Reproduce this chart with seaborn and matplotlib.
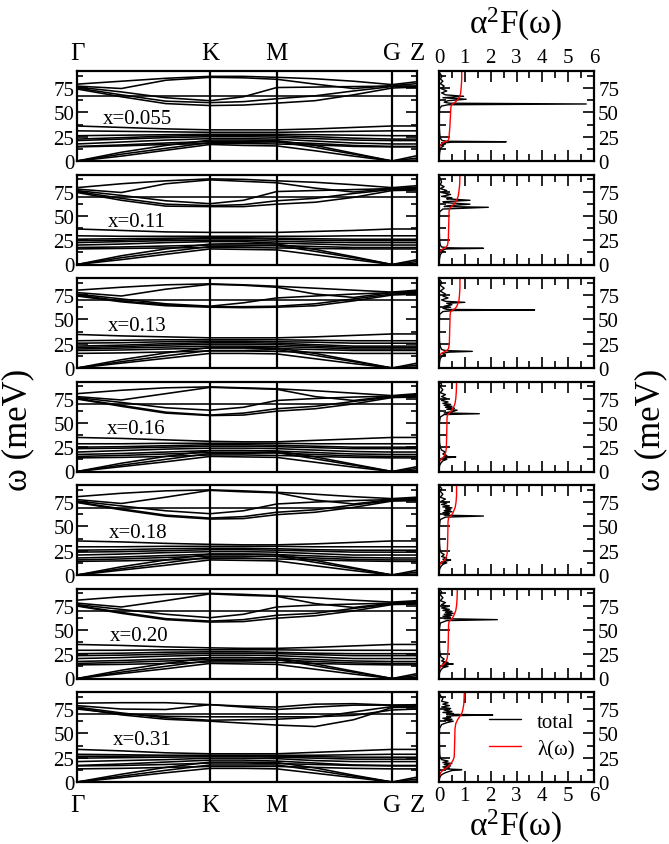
import numpy as np
import pandas as pd
import matplotlib
matplotlib.use("Agg")
import matplotlib.pyplot as plt
import seaborn as sns
from matplotlib.ticker import MultipleLocator

sns.set_theme(style="ticks", rc={
    "axes.edgecolor": "black", "xtick.color": "black", "ytick.color": "black",
    "text.color": "black", "axes.labelcolor": "black",
})
plt.rcParams["font.family"] = ["Liberation Serif", "DejaVu Serif"]
plt.rcParams["mathtext.fontset"] = "custom"
plt.rcParams["mathtext.rm"] = "Liberation Serif"
plt.rcParams["mathtext.it"] = "Liberation Serif:italic"

# ---- k-path  Γ-K-M-Γ(G)-Z  (units of 2π/a) ----
K_POS = 4.0 / 3.0
M_POS = 2.0
G_POS = 2.0 + 2.0 / np.sqrt(3.0)
Z_POS = G_POS + 0.25
KPATH = [0.0, K_POS / 3, 2 * K_POS / 3, K_POS, (K_POS + M_POS) / 2, M_POS,
         M_POS + (G_POS - M_POS) / 3, M_POS + 2 * (G_POS - M_POS) / 3, G_POS, Z_POS]
KLABELS = ["Γ", "K", "M", "G", "Z"]

DOPING = ["x=0.055", "x=0.11", "x=0.13", "x=0.16", "x=0.18", "x=0.20", "x=0.31"]

# ---- phonon branches (meV) sampled along KPATH ----
BANDS_0055 = [
    [79, 82, 85, 87, 87, 86, 84.5, 82, 78.5, 81.5],
    [77, 74.5, 83, 86, 85.5, 84, 79, 74.5, 77.5, 79.5],
    [76, 71, 65, 62, 66, 75.5, 76, 76.5, 77, 77],
    [75, 68, 61.5, 60, 61, 64, 67, 72, 76.5, 77],
    [74, 66, 59, 57, 57.5, 59.5, 62, 68, 75, 76],
    [67, 67, 67, 67, 67, 67, 67, 67, 67, 67],
    [36, 34.5, 33, 32, 32, 32, 33, 34.5, 36, 36],
    [31, 30.5, 30, 29.5, 29.5, 29.5, 30, 30.5, 31, 31],
    [26, 26.5, 27, 27.5, 27.5, 27.5, 27, 26.5, 26, 26],
    [22.5, 24, 25.5, 26.5, 26.5, 26, 25, 23.5, 22.5, 22.5],
    [21, 22.5, 24, 25, 25, 24.5, 23, 21.5, 21, 21],
    [17.5, 19.5, 21.5, 23, 23, 22.5, 20.5, 18.5, 17.5, 17.5],
    [15, 16.5, 18.5, 20, 20, 19.5, 18, 16, 15, 15],
    [14.5, 15.5, 17, 18, 18, 17.5, 16.5, 15, 14.5, 14.5],
    [0, 9, 16, 21.5, 21.5, 21, 16, 8, 0, 5.5],
    [0, 7, 13, 19, 19, 20, 14, 7, 0, 3],
    [0, 5, 11, 17, 16, 15.5, 10.5, 5, 0, 1],
]
BANDS_011 = [
    [79, 83, 86, 88, 87.5, 86, 84.5, 82, 79, 81],
    [77.5, 74, 83, 87, 85.5, 84, 78.5, 74.5, 78, 79.5],
    [76, 71, 65.5, 62.5, 66, 75, 76, 77, 78, 78],
    [75, 68, 62, 60.5, 61.5, 65.5, 68, 73, 77, 77.5],
    [74, 66, 60, 59.5, 59.5, 62, 64, 69, 76, 76.5],
    [69, 69, 69, 69, 69, 69, 69, 69, 69, 69],
    [36.5, 35, 33.5, 33, 33, 33, 34, 35, 36.5, 36.5],
    [29.5, 29, 29, 29, 29, 29, 29, 29.5, 29.5, 29.5],
    [26, 26.5, 27, 27.5, 27.5, 27, 26.5, 26, 26, 26],
    [24.5, 25, 26, 26.5, 26.5, 26, 25, 24.5, 24.5, 24.5],
    [22.5, 23.5, 24.5, 25, 25, 24, 23, 22.5, 22.5, 22.5],
    [20, 21, 22.5, 23.5, 23.5, 22, 21, 20, 20, 20],
    [17.5, 18, 19, 20, 20, 19.5, 18.5, 17.5, 17.5, 17.5],
    [16, 16.5, 17, 17.5, 17.5, 17, 16.5, 16, 16, 16],
    [0, 9, 16, 21, 21.5, 21, 15.5, 8, 0, 5],
    [0, 7, 13, 18.5, 19, 19.5, 13.5, 7, 0, 3],
    [0, 5, 10.5, 16, 15.5, 15, 10, 5, 0, 1],
]
BANDS_013 = [
    [80, 83, 85.5, 86.5, 85.5, 84, 82, 80, 78, 80],
    [77.5, 74, 81, 86, 85, 83, 76, 72.5, 77.5, 79],
    [76, 71, 66, 63.5, 67, 72, 74, 76, 77.5, 77.5],
    [75, 69, 65, 63, 63, 63.5, 66, 71, 76, 77],
    [74, 68, 64, 62.5, 62, 62.5, 64, 69, 75, 76],
    [70, 70, 70, 70, 70, 70, 70, 70, 70, 70],
    [34.5, 33, 32, 31, 31, 31, 32, 33.5, 35, 35],
    [28, 28.5, 29, 29, 29, 29, 28.5, 28, 28, 28],
    [25.5, 26, 27, 27.5, 27.5, 27, 26.5, 25.5, 25.5, 25.5],
    [22.5, 23.5, 25, 26, 26, 25.5, 24, 22.5, 22.5, 22.5],
    [21, 22, 23.5, 24.5, 24.5, 24, 22.5, 21, 21, 21],
    [19.5, 20.5, 21.5, 22.5, 22.5, 22, 21, 19.5, 19.5, 19.5],
    [18, 18.5, 19.5, 20.5, 20.5, 20, 19, 18, 18, 18],
    [15, 15.5, 16.5, 17.5, 17.5, 17, 16, 15, 15, 15],
    [0, 8.5, 15.5, 21, 21, 20.5, 15, 7.5, 0, 5],
    [0, 6.5, 12.5, 18, 18, 19, 13, 6.5, 0, 3],
    [0, 5, 10, 15, 15, 14.5, 9.5, 4.5, 0, 1],
]
BANDS_016 = [
    [80, 83.5, 86, 87, 86, 85, 83, 80.5, 78, 80],
    [77, 73.5, 80, 86.5, 85.5, 84.5, 77, 73, 77.5, 79],
    [76, 71, 65.5, 63, 66, 73, 75, 76.5, 77.5, 78],
    [75, 68, 61, 58, 60, 64.5, 67, 72, 76.5, 77],
    [74.5, 67, 60, 57.5, 58, 62, 64.5, 69.5, 76, 76.5],
    [69.5, 69.5, 69.5, 69.5, 69.5, 69.5, 69.5, 69.5, 69.5, 69.5],
    [35, 34, 32.5, 31, 30.5, 30.5, 32, 33.5, 35, 35],
    [28.5, 28.5, 29, 29, 29, 29, 28.5, 28.5, 28.5, 28.5],
    [25, 25.5, 26.5, 27.5, 27.5, 27, 26, 25, 25, 25],
    [23.5, 24, 25, 26, 26, 25.5, 24.5, 23.5, 23.5, 23.5],
    [20, 21.5, 23, 24, 24, 23.5, 22, 20.5, 20, 20],
    [17.5, 18.5, 20, 21.5, 21.5, 21, 19.5, 18, 17.5, 17.5],
    [15.5, 16.5, 18, 19.5, 19.5, 19, 17.5, 16, 15.5, 15.5],
    [14, 14.5, 15.5, 17, 17, 16.5, 15.5, 14.5, 14, 14],
    [0, 8.5, 15.5, 21.5, 21.5, 21, 15, 7.5, 0, 5],
    [0, 6.5, 12.5, 18.5, 18.5, 19.5, 13, 6.5, 0, 3],
    [0, 5, 10, 15.5, 15, 14.5, 9.5, 4.5, 0, 1],
]
BANDS_018 = [
    [80.5, 84, 86.5, 87.5, 86.5, 85, 83, 80.5, 78.5, 80],
    [77.5, 73.5, 80, 87, 85.5, 84.5, 77, 73, 77.5, 79],
    [76, 71, 66, 63, 66, 73, 75, 76.5, 77.5, 78],
    [75, 68, 61.5, 58.5, 60, 64.5, 67, 72, 76.5, 77],
    [74.5, 67, 60.5, 57.5, 58, 62, 64.5, 69.5, 76, 76.5],
    [69, 69, 69, 69, 69, 69, 69, 69, 69, 69],
    [35, 34, 32.5, 31.5, 31, 31, 32, 33.5, 35, 35],
    [29, 29, 29.5, 29.5, 29.5, 29.5, 29, 29, 29, 29],
    [25.5, 26, 27, 27.5, 27.5, 27, 26, 25.5, 25.5, 25.5],
    [23.5, 24, 25, 26, 26, 25.5, 24.5, 23.5, 23.5, 23.5],
    [20.5, 21.5, 23, 24, 24, 23.5, 22, 20.5, 20.5, 20.5],
    [17.5, 18.5, 20, 21.5, 21.5, 21, 19.5, 18, 17.5, 17.5],
    [15.5, 16.5, 18, 19.5, 19.5, 19, 17.5, 16, 15.5, 15.5],
    [14, 14.5, 15.5, 17, 17, 16.5, 15.5, 14.5, 14, 14],
    [0, 8.5, 15.5, 21.5, 21.5, 21, 15, 7.5, 0, 5],
    [0, 6.5, 12.5, 18.5, 18.5, 19.5, 13, 6.5, 0, 3],
    [0, 5, 10, 15.5, 15, 14.5, 9.5, 4.5, 0, 1],
]
BANDS_020 = [
    [80.5, 84, 86.5, 87.5, 86.5, 85, 83, 80.5, 78.5, 80],
    [77.5, 73.5, 80, 87, 85.5, 84.5, 77, 73, 77.5, 79],
    [76, 71, 66, 62.5, 66, 73.5, 75.5, 76.5, 77.5, 78],
    [75, 68, 61.5, 59, 60.5, 65, 67, 72, 76.5, 77],
    [74.5, 67, 60.5, 58, 58.5, 62, 64.5, 69.5, 76, 76.5],
    [69, 69, 69, 69, 69, 69, 69, 69, 69, 69],
    [35, 34, 32.5, 31.5, 31, 31, 32, 33.5, 35, 35],
    [29, 29, 29.5, 29.5, 29.5, 29.5, 29, 29, 29, 29],
    [25.5, 26, 27, 27.5, 27.5, 27, 26, 25.5, 25.5, 25.5],
    [23.5, 24, 25, 26, 26, 25.5, 24.5, 23.5, 23.5, 23.5],
    [20.5, 21.5, 23, 24, 24, 23.5, 22, 20.5, 20.5, 20.5],
    [17.5, 18.5, 20, 21.5, 21.5, 21, 19.5, 18, 17.5, 17.5],
    [15.5, 16.5, 18, 19.5, 19.5, 19, 17.5, 16, 15.5, 15.5],
    [14, 14.5, 15.5, 17, 17, 16.5, 15.5, 14.5, 14, 14],
    [0, 8.5, 15.5, 21.5, 21.5, 21, 15, 7.5, 0, 5],
    [0, 6.5, 12.5, 18.5, 18.5, 19.5, 13, 6.5, 0, 3],
    [0, 5, 10, 15.5, 15, 14.5, 9.5, 4.5, 0, 1],
]
BANDS_031 = [
    [81, 81.5, 81.5, 79.5, 77, 74.5, 77, 79, 79, 79],
    [78.5, 75, 74.5, 79.5, 78, 77, 80, 80.5, 79, 79.5],
    [77, 71, 66, 63.5, 64, 64.5, 66.5, 72, 77.5, 77.5],
    [76, 69, 64.5, 62.5, 60.5, 58.5, 57, 64, 76.5, 77],
    [75, 70, 67.5, 67, 67, 67, 67, 68.5, 74, 75],
    [69.5, 69.5, 69.5, 69.5, 69.5, 69.5, 69.5, 69.5, 69.5, 69.5],
    [33.5, 32, 30, 29, 29, 29, 30.5, 32, 33.5, 33.5],
    [28.5, 28, 27.5, 27.5, 27.5, 27.5, 27.5, 28, 28.5, 28.5],
    [26.5, 26.5, 27, 27, 27, 26.5, 26, 25.5, 25.5, 25.5],
    [24.5, 25, 25.5, 26, 26, 25.5, 24.5, 23.5, 23.5, 23.5],
    [21, 22, 23, 24.5, 24.5, 24, 22, 21, 21, 21],
    [17, 18.5, 20.5, 22.5, 22.5, 21.5, 19.5, 17.5, 17, 17],
    [16.5, 17, 18, 19.5, 19.5, 19, 18, 17, 16.5, 16.5],
    [13.5, 14, 15, 16, 16, 16, 15, 14, 13.5, 13.5],
    [0, 8, 15, 20.5, 20.5, 20, 14.5, 7, 0, 5],
    [0, 6, 12, 17.5, 17.5, 17.5, 12, 6, 0, 3],
    [0, 4.5, 9.5, 14, 14, 13.5, 9, 4.5, 0, 1],
]

# ---- Eliashberg function alpha^2F(omega) ----
W_0055 = [0, 8, 12, 14, 15.5, 16.5, 17.5, 18.5, 19.3, 19.8, 20.3, 21, 23, 27, 35, 45, 54, 56.5, 57.8,
          58.6, 59.4, 60.5, 62, 63.5, 65, 66.5, 68, 70, 72, 74.5, 77, 79.5, 82, 84.5, 87, 89.5, 92]
F_0055 = [0, 0.02, 0.05, 0.08, 0.18, 0.06, 0.25, 0.1, 0.5, 2.6, 0.3, 0.12, 0.06, 0.03, 0.01, 0.01, 0.02, 0.1, 0.35,
          5.7, 0.4, 0.2, 0.35, 1.05, 0.15, 0.95, 0.25, 0.1, 0.3, 0.08, 0.2, 0.05, 0.15, 0.05, 0.12, 0.05, 0]
W_011 = [0, 6, 10, 12, 13.5, 15, 16, 16.6, 17.2, 18, 20, 23, 27, 35, 45, 54, 57, 58.8, 59.6, 60.5, 62, 63.5,
         64.5, 66, 67.5, 68.5, 70, 72, 74, 76, 78, 80, 82, 85, 88, 92]
F_011 = [0, 0.02, 0.05, 0.1, 0.2, 0.05, 0.3, 1.72, 0.35, 0.1, 0.05, 0.03, 0.02, 0.01, 0.01, 0.02, 0.15, 1.91, 0.2,
         0.4, 1.2, 0.3, 0.15, 1.2, 0.3, 0.5, 0.1, 0.45, 0.1, 0.3, 0.05, 0.2, 0.05, 0.1, 0.05, 0]
W_013 = [0, 6, 10, 12, 13.5, 15, 16.3, 17.1, 17.9, 19, 22, 27, 35, 45, 55, 58, 59.1, 59.6, 60.2, 61.5, 62.5,
         63.5, 65, 66.5, 67.5, 68.5, 70, 72, 74, 76, 79, 82, 85, 88, 92]
F_013 = [0, 0.02, 0.05, 0.12, 0.25, 0.1, 0.4, 1.29, 0.25, 0.1, 0.05, 0.02, 0.01, 0.01, 0.02, 0.15, 0.6, 3.7, 0.3,
         0.15, 0.45, 0.2, 0.5, 0.3, 1.0, 0.25, 0.1, 0.35, 0.15, 0.25, 0.05, 0.2, 0.05, 0.1, 0]
W_016 = [0, 6, 9, 11, 12.5, 13.5, 14.3, 14.9, 15.5, 16.5, 18, 20, 22, 25, 30, 40, 50, 56, 58.5, 59.4, 60.2,
         61.5, 63, 64, 65, 66, 67, 68, 69, 70, 71.5, 73, 75, 77, 79, 81, 84, 87, 90, 92]
F_016 = [0, 0.02, 0.08, 0.15, 0.3, 0.1, 0.35, 0.65, 0.2, 0.3, 0.15, 0.25, 0.1, 0.05, 0.02, 0.01, 0.01, 0.05, 0.2,
         1.56, 0.2, 0.5, 0.7, 0.3, 0.6, 0.25, 0.5, 0.2, 0.45, 0.15, 0.35, 0.1, 0.3, 0.1, 0.25, 0.05, 0.15, 0.05,
         0.1, 0]
W_018 = [0, 6, 9, 11, 12.5, 13.5, 14.5, 15.4, 16.2, 17.5, 19, 21, 23, 26, 32, 40, 50, 57, 59.5, 60.6, 61.5,
         63, 64, 65, 66, 67, 68, 69, 70, 71, 72.5, 74, 76, 78, 80, 83, 86, 89, 92]
F_018 = [0, 0.02, 0.08, 0.15, 0.3, 0.1, 0.3, 0.45, 0.15, 0.3, 0.1, 0.2, 0.08, 0.04, 0.02, 0.01, 0.01, 0.05, 0.25,
         1.72, 0.2, 0.4, 0.15, 0.5, 0.2, 0.45, 0.25, 0.5, 0.15, 0.4, 0.1, 0.3, 0.1, 0.25, 0.05, 0.15, 0.05, 0.1, 0]
W_020 = [0, 6, 9, 11, 12.5, 13.5, 14.3, 14.9, 15.6, 16.5, 18, 20, 22, 25, 30, 40, 50, 57, 59.5, 60.5, 61.5,
         63, 64, 65, 66, 67, 68, 69, 70, 71, 72.5, 74, 76, 78, 80, 83, 86, 89, 92]
F_020 = [0, 0.02, 0.08, 0.15, 0.35, 0.1, 0.3, 0.55, 0.15, 0.35, 0.1, 0.2, 0.08, 0.04, 0.02, 0.01, 0.01, 0.05, 0.3,
         2.26, 0.2, 0.45, 0.15, 0.5, 0.2, 0.55, 0.25, 0.5, 0.15, 0.4, 0.1, 0.35, 0.1, 0.25, 0.05, 0.15, 0.05, 0.1, 0]
W_031 = [0, 4, 7, 9, 10.5, 11.8, 12.7, 13.5, 14.5, 15.5, 16.5, 18, 19, 20, 21.5, 23, 25, 28, 35, 45, 55, 59, 61,
         62.5, 63.5, 64.5, 65.5, 66.5, 67.5, 68.2, 68.9, 69.6, 70.5, 71.5, 72.5, 74, 75.5, 77, 78.5, 80, 81.5,
         83, 86, 89, 92]
F_031 = [0, 0.02, 0.08, 0.2, 0.35, 0.5, 0.88, 0.2, 0.4, 0.15, 0.45, 0.2, 0.5, 0.15, 0.35, 0.1, 0.05, 0.03, 0.02,
         0.01, 0.02, 0.1, 0.3, 0.55, 0.2, 0.5, 0.15, 0.45, 0.3, 0.6, 2.08, 0.3, 0.55, 0.15, 0.5, 0.2, 0.45, 0.1,
         0.4, 0.15, 0.35, 0.1, 0.15, 0.05, 0]

# ---- cumulative coupling lambda(omega) ----
LW_0055 = [0, 14, 16, 18, 19.5, 20.5, 22, 25, 35, 45, 55, 57.5, 59, 61, 63, 66, 70, 76, 84, 92]
LV_0055 = [0, 0, 0.05, 0.12, 0.2, 0.33, 0.37, 0.39, 0.42, 0.44, 0.46, 0.48, 0.55, 0.65, 0.72, 0.8, 0.84, 0.86,
           0.88, 0.88]
LW_011 = [0, 12, 14, 16, 18, 20, 25, 35, 45, 55, 58, 60, 62, 64, 67, 70, 75, 82, 92]
LV_011 = [0, 0, 0.05, 0.15, 0.28, 0.33, 0.36, 0.37, 0.38, 0.39, 0.42, 0.5, 0.58, 0.64, 0.7, 0.74, 0.77, 0.8, 0.81]
LW_013 = [0, 12, 14, 16, 18, 20, 25, 35, 45, 55, 58, 59.6, 61, 63, 66, 69, 74, 82, 92]
LV_013 = [0, 0, 0.05, 0.16, 0.3, 0.37, 0.4, 0.41, 0.42, 0.43, 0.45, 0.52, 0.62, 0.68, 0.73, 0.77, 0.79, 0.81, 0.81]
LW_016 = [0, 9, 11, 13, 15, 17, 20, 23, 30, 40, 55, 58, 60, 62, 64, 67, 70, 75, 82, 92]
LV_016 = [0, 0, 0.04, 0.1, 0.18, 0.22, 0.26, 0.28, 0.29, 0.3, 0.31, 0.33, 0.4, 0.47, 0.52, 0.58, 0.62, 0.65,
          0.67, 0.68]
LW_018 = [0, 9, 11, 13, 15, 17, 20, 23, 30, 40, 55, 58.5, 60.6, 62, 64, 67, 70, 75, 82, 92]
LV_018 = [0, 0, 0.04, 0.1, 0.2, 0.25, 0.3, 0.32, 0.33, 0.34, 0.35, 0.37, 0.45, 0.5, 0.54, 0.59, 0.63, 0.66,
          0.68, 0.68]
LW_020 = [0, 9, 11, 13, 15, 17, 20, 23, 30, 40, 55, 58.5, 60.5, 62, 64, 67, 70, 75, 82, 92]
LV_020 = [0, 0, 0.04, 0.1, 0.2, 0.26, 0.31, 0.33, 0.35, 0.36, 0.37, 0.39, 0.47, 0.52, 0.56, 0.61, 0.65, 0.68,
          0.7, 0.71]
LW_031 = [0, 4, 7, 9.5, 12, 14, 16, 19, 22, 26, 35, 45, 55, 60, 64, 68, 70.5, 74, 80, 92]
LV_031 = [0, 0.01, 0.03, 0.06, 0.15, 0.26, 0.36, 0.46, 0.54, 0.59, 0.6, 0.61, 0.62, 0.65, 0.72, 0.82, 0.88,
          0.92, 0.96, 0.98]

PANELS = [
    (BANDS_0055, W_0055, F_0055, LW_0055, LV_0055),
    (BANDS_011, W_011, F_011, LW_011, LV_011),
    (BANDS_013, W_013, F_013, LW_013, LV_013),
    (BANDS_016, W_016, F_016, LW_016, LV_016),
    (BANDS_018, W_018, F_018, LW_018, LV_018),
    (BANDS_020, W_020, F_020, LW_020, LV_020),
    (BANDS_031, W_031, F_031, LW_031, LV_031),
]
LABEL_K = [0.26, 0.31, 0.31, 0.30, 0.32, 0.33, 0.36]

FIG_W, FIG_H = 669, 845
fig = plt.figure(figsize=(FIG_W / 100, FIG_H / 100), dpi=100)
fig.patch.set_facecolor("white")

YMAX = 92.5
SPINE_W = 1.6
TICK_FS = 15
n = len(PANELS)
for i, (bands, w, f, lw_, lv) in enumerate(PANELS):
    top = 72 + 103.5 * i
    bottom = 1 - (top + 90) / FIG_H
    axL = fig.add_axes([77 / FIG_W, bottom, 340 / FIG_W, 90 / FIG_H])
    axR = fig.add_axes([439 / FIG_W, bottom, 155 / FIG_W, 90 / FIG_H])

    # dispersion
    recs = [(b, k, e) for b, band in enumerate(bands) for k, e in zip(KPATH, band)]
    df = pd.DataFrame(recs, columns=["branch", "k", "omega"])
    sns.lineplot(data=df, x="k", y="omega", units="branch", estimator=None,
                 color="black", lw=1.15, ax=axL, legend=False)
    for kx in (K_POS, M_POS, G_POS):
        axL.axvline(kx, color="black", lw=SPINE_W)
    axL.set_xlim(0, Z_POS)
    axL.set_ylim(0, YMAX)
    axL.set_xticks([0, K_POS, M_POS, G_POS, Z_POS])
    axL.set_xticklabels(KLABELS)
    axL.tick_params(axis="x", length=0, labelsize=18, pad=(5 if i == 0 else 9),
                    labeltop=(i == 0), labelbottom=(i == n - 1), top=False, bottom=False)
    axL.yaxis.set_major_locator(MultipleLocator(25))
    axL.yaxis.set_minor_locator(MultipleLocator(12.5))
    axL.tick_params(axis="y", which="both", direction="in", left=True, right=True,
                    labelleft=True, labelsize=TICK_FS, pad=2)
    axL.tick_params(axis="y", which="major", length=8, width=1.2)
    axL.tick_params(axis="y", which="minor", length=4, width=1.2)
    axL.set_xlabel("")
    axL.set_ylabel("")
    axL.text(LABEL_K[i], 44, DOPING[i], fontsize=15, va="center", ha="left")

    # alpha^2F and lambda
    dfa = pd.DataFrame({"omega": w, "a2f": f})
    dfl = pd.DataFrame({"omega": lw_, "lam": lv})
    sns.lineplot(data=dfa, x="a2f", y="omega", orient="y", sort=False, estimator=None,
                 color="black", lw=1.0, ax=axR, label="total" if i == n - 1 else None, legend=False)
    sns.lineplot(data=dfl, x="lam", y="omega", orient="y", sort=False, estimator=None,
                 color="red", lw=1.0, ax=axR, label="λ(ω)" if i == n - 1 else None, legend=False)
    axR.set_xlim(0, 6)
    axR.set_ylim(0, YMAX)
    axR.xaxis.set_major_locator(MultipleLocator(1))
    axR.xaxis.set_minor_locator(MultipleLocator(0.5))
    axR.yaxis.set_major_locator(MultipleLocator(25))
    axR.yaxis.set_minor_locator(MultipleLocator(12.5))
    axR.tick_params(axis="both", which="both", direction="in", top=True, bottom=True,
                    left=True, right=True, labelleft=False, labelright=True,
                    labeltop=(i == 0), labelbottom=(i == n - 1), labelsize=TICK_FS, pad=3)
    axR.tick_params(axis="both", which="major", length=8, width=1.2)
    axR.tick_params(axis="both", which="minor", length=5, width=1.2)
    axR.set_xlabel("")
    axR.set_ylabel("")

    for ax in (axL, axR):
        for sp in ax.spines.values():
            sp.set_linewidth(SPINE_W)
            sp.set_color("black")

    if i == n - 1:
        axR.legend(loc="center right", bbox_to_anchor=(0.93, 0.52), frameon=False,
                   fontsize=15, handlelength=1.5, handletextpad=0.8, labelspacing=0.35,
                   borderaxespad=0)

fig.text(516 / FIG_W, 1 - 24 / FIG_H, "α$^2$F(ω)", ha="center", va="center", fontsize=24)
fig.text(516 / FIG_W, 1 - 826 / FIG_H, "α$^2$F(ω)", ha="center", va="center", fontsize=24)
fig.text(18 / FIG_W, 1 - 430 / FIG_H, "ω (meV)", rotation=90, ha="center", va="center", fontsize=25)
fig.text(651 / FIG_W, 1 - 430 / FIG_H, "ω (meV)", rotation=90, ha="center", va="center", fontsize=25)

fig.savefig("out.png", dpi=100, facecolor="white")
